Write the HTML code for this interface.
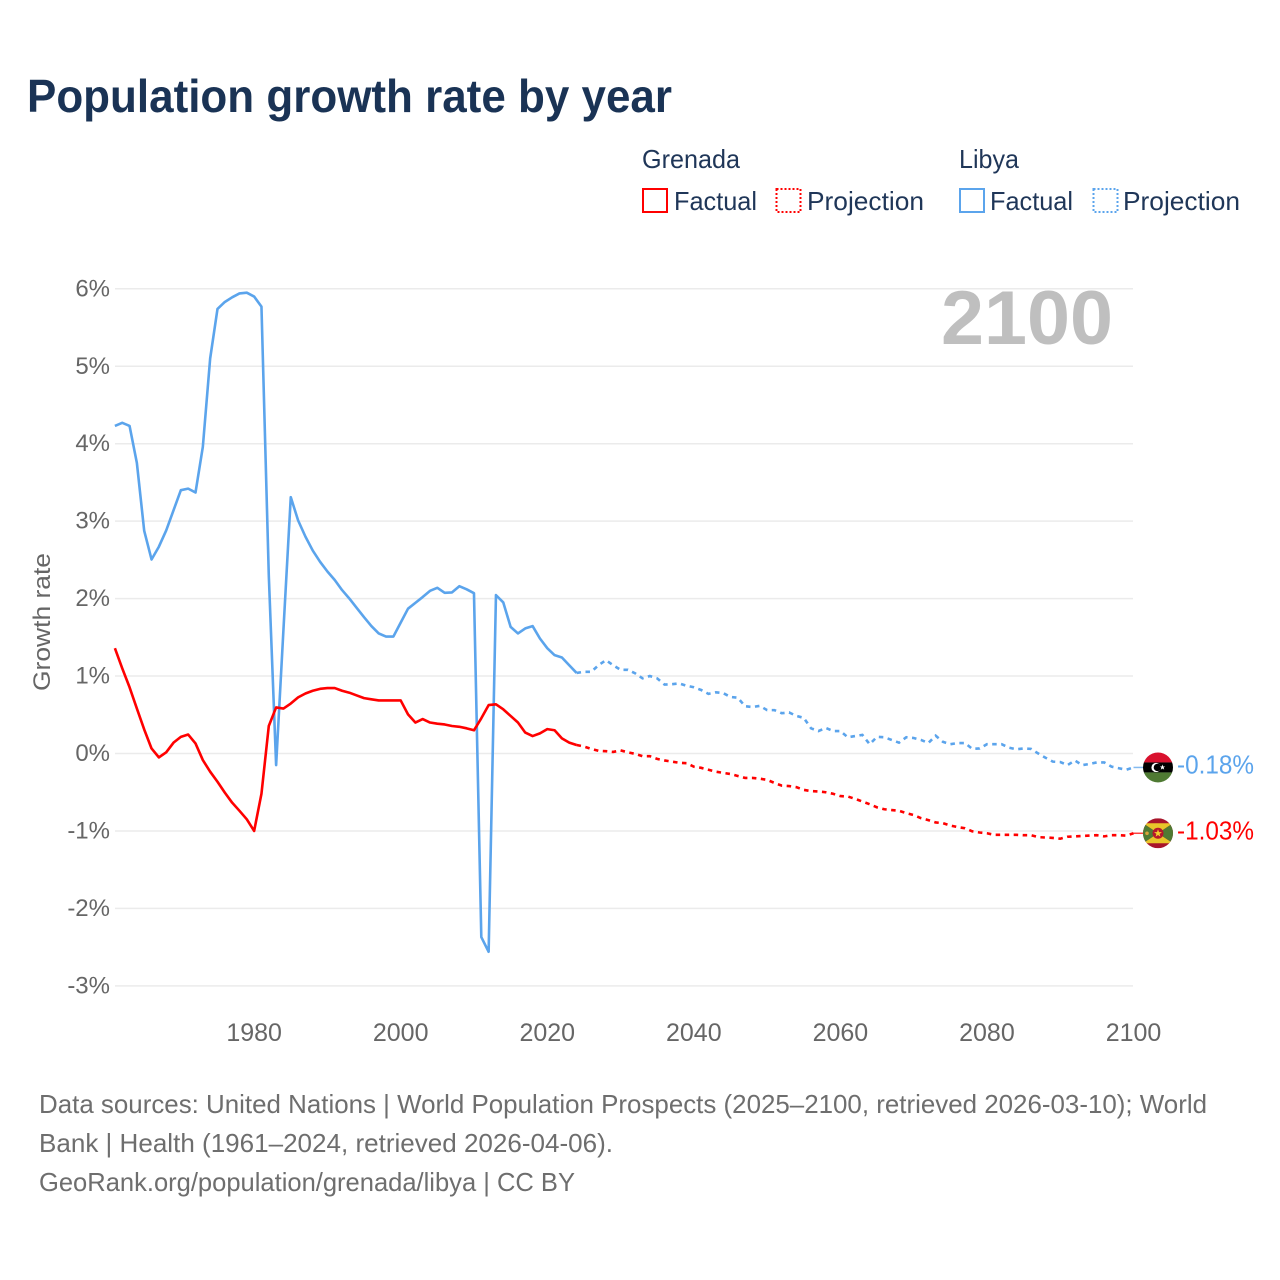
<!DOCTYPE html>
<html lang="en">
<head>
<meta charset="utf-8">
<title>Population growth rate by year</title>
<style>
html,body{margin:0;padding:0;background:#fff;}
svg{display:block;}
text{font-family:"Liberation Sans",sans-serif;}
</style>
</head>
<body>
<svg id="chart" xmlns="http://www.w3.org/2000/svg" width="1280" height="1280" viewBox="0 0 1280 1280">
  <defs>
    <clipPath id="flag-clip"><circle cx="0" cy="0" r="15"></circle></clipPath>
  </defs>
  <rect x="0" y="0" width="1280" height="1280" fill="#ffffff"></rect>

  <text x="27" y="112" font-size="46" font-weight="700" fill="#1a3355" textLength="645" lengthAdjust="spacingAndGlyphs">Population growth rate by year</text>

  <g font-size="26" fill="#1f3658">
    <text x="642" y="168" textLength="98" lengthAdjust="spacingAndGlyphs">Grenada</text>
    <text x="959" y="168" textLength="60" lengthAdjust="spacingAndGlyphs">Libya</text>
    <rect x="643" y="189" width="24" height="23" fill="none" stroke="#ff0000" stroke-width="2"></rect>
    <text x="674" y="210" textLength="83" lengthAdjust="spacingAndGlyphs">Factual</text>
    <rect x="776.5" y="189" width="24" height="23" fill="none" stroke="#ff0000" stroke-width="2" stroke-dasharray="2 2"></rect>
    <text x="807" y="210" textLength="117" lengthAdjust="spacingAndGlyphs">Projection</text>
    <rect x="960" y="189" width="24" height="23" fill="none" stroke="#5ba4ec" stroke-width="2"></rect>
    <text x="990" y="210" textLength="83" lengthAdjust="spacingAndGlyphs">Factual</text>
    <rect x="1093.5" y="189" width="24" height="23" fill="none" stroke="#5ba4ec" stroke-width="2" stroke-dasharray="2 2"></rect>
    <text x="1123" y="210" textLength="117" lengthAdjust="spacingAndGlyphs">Projection</text>
  </g>

  <g id="grid"></g>
  <g id="y-ticks"></g>
  <g id="x-ticks"></g>

  <text x="1113" y="344" text-anchor="end" font-size="76" font-weight="700" fill="#bfbfbf" textLength="172" lengthAdjust="spacingAndGlyphs">2100</text>

  <text transform="translate(50,622) rotate(-90)" text-anchor="middle" font-size="24" fill="#666666" textLength="138" lengthAdjust="spacingAndGlyphs">Growth rate</text>

  <g id="series"></g>
  <g id="end-markers"></g>

  <g font-size="26" fill="#6e6e6e">
    <text x="39" y="1113" textLength="1168" lengthAdjust="spacingAndGlyphs">Data sources: United Nations | World Population Prospects (2025–2100, retrieved 2026-03-10); World</text>
    <text x="39" y="1152" textLength="574" lengthAdjust="spacingAndGlyphs">Bank | Health (1961–2024, retrieved 2026-04-06).</text>
    <text x="39" y="1191" textLength="536" lengthAdjust="spacingAndGlyphs">GeoRank.org/population/grenada/libya | CC BY</text>
  </g>
</svg>

<script>
const yTickValues = [6, 5, 4, 3, 2, 1, 0, -1, -2, -3];
const xTickYears = [1980, 2000, 2020, 2040, 2060, 2080, 2100];
const factualStartYear = 1961;
const projectionStartYear = 2024;

const libyaFactual = [
  4.23, 4.27, 4.23, 3.75, 2.875, 2.505, 2.67, 2.88, 3.14, 3.40,
  3.42, 3.37, 3.96, 5.10, 5.74, 5.83, 5.89, 5.94, 5.95, 5.90,
  5.77, 2.30, -0.15, 1.60, 3.31, 3.01, 2.80, 2.62, 2.475, 2.35,
  2.24, 2.11, 2.00, 1.88, 1.76, 1.645, 1.55, 1.51, 1.51, 1.69,
  1.87, 1.945, 2.02, 2.10, 2.14, 2.075, 2.08, 2.16, 2.12, 2.07,
  -2.37, -2.56, 2.045, 1.95, 1.635, 1.55, 1.615, 1.645, 1.485, 1.36,
  1.27, 1.24, 1.14, 1.04
];

const libyaProjection = [
  1.04,
  1.055, 1.055, 1.14, 1.205, 1.14, 1.08, 1.08, 1.035, 0.97, 1.00,
  0.97, 0.89, 0.895, 0.905, 0.875, 0.855, 0.82, 0.77, 0.79, 0.78,
  0.73, 0.72, 0.61, 0.60, 0.615, 0.56, 0.56, 0.52, 0.53, 0.485,
  0.46, 0.325, 0.29, 0.33, 0.29, 0.29, 0.21, 0.225, 0.24, 0.12,
  0.215, 0.21, 0.175, 0.14, 0.21, 0.20, 0.175, 0.135, 0.23, 0.15,
  0.12, 0.135, 0.135, 0.06, 0.065, 0.12, 0.12, 0.12, 0.075, 0.055,
  0.065, 0.06, 0.00, -0.055, -0.105, -0.11, -0.15, -0.09, -0.15, -0.135,
  -0.115, -0.115, -0.17, -0.19, -0.21, -0.18
];

const grenadaFactual = [
  1.36, 1.10, 0.855, 0.58, 0.31, 0.065, -0.05, 0.015, 0.14, 0.215,
  0.245, 0.13, -0.085, -0.235, -0.365, -0.505, -0.635, -0.74, -0.85, -1.00,
  -0.52, 0.355, 0.595, 0.58, 0.645, 0.725, 0.775, 0.81, 0.835, 0.845,
  0.845, 0.81, 0.785, 0.75, 0.715, 0.70, 0.685, 0.685, 0.685, 0.685,
  0.505, 0.40, 0.445, 0.40, 0.385, 0.375, 0.355, 0.345, 0.325, 0.30,
  0.455, 0.625, 0.635, 0.57, 0.485, 0.40, 0.27, 0.225, 0.26, 0.315,
  0.30, 0.195, 0.14, 0.11
];

const grenadaProjection = [
  0.11,
  0.09, 0.06, 0.035, 0.03, 0.02, 0.04, 0.015, -0.005, -0.035, -0.035,
  -0.07, -0.09, -0.105, -0.12, -0.125, -0.17, -0.185, -0.21, -0.235, -0.25,
  -0.265, -0.29, -0.315, -0.315, -0.325, -0.34, -0.38, -0.415, -0.42, -0.435,
  -0.47, -0.485, -0.49, -0.50, -0.52, -0.55, -0.555, -0.585, -0.62, -0.655,
  -0.695, -0.72, -0.73, -0.74, -0.77, -0.795, -0.835, -0.86, -0.89, -0.90,
  -0.93, -0.95, -0.965, -1.005, -1.02, -1.03, -1.05, -1.05, -1.05, -1.05,
  -1.055, -1.055, -1.08, -1.085, -1.09, -1.10, -1.075, -1.07, -1.065, -1.06,
  -1.055, -1.07, -1.055, -1.055, -1.06, -1.03
];

const SVG_NS = 'http://www.w3.org/2000/svg';
function xScale(year) { return 114.9 + (year - 1961) * (1133.5 - 114.9) / 139; }
function yScale(value) { return 753.5 - value * 77.45; }
function make(tag, attrs, parent) {
  const el = document.createElementNS(SVG_NS, tag);
  for (const key in attrs) el.setAttribute(key, attrs[key]);
  parent.appendChild(el);
  return el;
}
function linePath(values, startYear) {
  return values.map(function (v, i) {
    return (i ? 'L' : 'M') + xScale(startYear + i).toFixed(2) + ' ' + yScale(v).toFixed(2);
  }).join(' ');
}

const gridGroup = document.getElementById('grid');
const yTickGroup = document.getElementById('y-ticks');
yTickValues.forEach(function (v) {
  const line = make('line', { x1: 115, x2: 1133, y1: yScale(v), y2: yScale(v), stroke: '#ebebeb', 'stroke-width': 1.5 }, gridGroup);
  
  
  const label = make('text', { x: 110, y: yScale(v) + 7.5, 'text-anchor': 'end', 'font-size': 24, fill: '#666666' }, yTickGroup);
  
  
  label.textContent = v + '%';
});

const xTickGroup = document.getElementById('x-ticks');
xTickYears.forEach(function (year) {
  const label = make('text', { x: xScale(year), y: 1041, 'text-anchor': 'middle', 'font-size': 25, fill: '#666666' }, xTickGroup);
  
  
  label.textContent = year;
});

const BLUE = '#5ba4ec';
const RED = '#ff0000';
const seriesGroup = document.getElementById('series');

const libyaFactualLine = make('path', { d: linePath(libyaFactual, factualStartYear), fill: 'none', stroke: BLUE, 'stroke-width': 2.6, 'stroke-linejoin': 'round' }, seriesGroup);



const libyaProjectionLine = make('path', { d: linePath(libyaProjection, projectionStartYear), fill: 'none', stroke: BLUE, 'stroke-width': 2.6, 'stroke-dasharray': '4.5 4.5' }, seriesGroup);



const grenadaFactualLine = make('path', { d: linePath(grenadaFactual, factualStartYear), fill: 'none', stroke: RED, 'stroke-width': 2.6, 'stroke-linejoin': 'round' }, seriesGroup);



const grenadaProjectionLine = make('path', { d: linePath(grenadaProjection, projectionStartYear), fill: 'none', stroke: RED, 'stroke-width': 2.6, 'stroke-dasharray': '4.5 4.5' }, seriesGroup);



const markerGroup = document.getElementById('end-markers');
function drawConnector(value, color) {
  const c = make('line', { x1: xScale(2100), x2: 1146, y1: yScale(value), y2: yScale(value), stroke: color, 'stroke-width': 1.5, opacity: 0.75 }, markerGroup);
  
  
}
function drawEndLabel(value, color) {
  const t = make('text', { x: 1177, y: yScale(value) + 6, 'font-size': 25.5, fill: color, textLength: 77, lengthAdjust: 'spacingAndGlyphs' }, markerGroup);
  
  
  t.textContent = value.toFixed(2) + '%';
}

const libyaLast = libyaProjection[libyaProjection.length - 1];
const grenadaLast = grenadaProjection[grenadaProjection.length - 1];
drawConnector(libyaLast, BLUE);
drawConnector(grenadaLast, RED);

const libyaFlag = make('g', { transform: 'translate(1158,' + yScale(libyaLast) + ')', 'clip-path': 'url(#flag-clip)' }, markerGroup);


make('rect', { x: -15, y: -15, width: 30, height: 10, fill: '#d9112e' }, libyaFlag);
make('rect', { x: -15, y: -5, width: 30, height: 10, fill: '#000000' }, libyaFlag);
make('rect', { x: -15, y: 5, width: 30, height: 10, fill: '#4f7a33' }, libyaFlag);
make('circle', { cx: -2, cy: 0, r: 4.6, fill: '#ffffff' }, libyaFlag);
make('circle', { cx: -0.6, cy: 0, r: 3.7, fill: '#000000' }, libyaFlag);
make('polygon', { points: '4.5,-3 5.2,-1 7.2,-1 5.6,0.2 6.2,2.2 4.5,1 2.8,2.2 3.4,0.2 1.8,-1 3.8,-1', fill: '#ffffff' }, libyaFlag);

const grenadaFlag = make('g', { transform: 'translate(1158,' + yScale(grenadaLast) + ')', 'clip-path': 'url(#flag-clip)' }, markerGroup);


make('rect', { x: -15, y: -15, width: 30, height: 30, fill: '#a8152b' }, grenadaFlag);
make('polygon', { points: '-15,-10 15,-10 0,0', fill: '#e8c52a' }, grenadaFlag);
make('polygon', { points: '-15,10 15,10 0,0', fill: '#e8c52a' }, grenadaFlag);
make('polygon', { points: '-15,-10 -15,10 0,0', fill: '#4f7a33' }, grenadaFlag);
make('polygon', { points: '15,-10 15,10 0,0', fill: '#4f7a33' }, grenadaFlag);
make('circle', { cx: 0, cy: 0, r: 5.5, fill: '#b5162b' }, grenadaFlag);
make('polygon', { points: '0,-4 1,-1.2 4,-1.2 1.6,0.6 2.4,3.4 0,1.7 -2.4,3.4 -1.6,0.6 -4,-1.2 -1,-1.2', fill: '#f2d02c' }, grenadaFlag);
make('circle', { cx: -11, cy: 0, r: 1.8, fill: '#d9a43a' }, grenadaFlag);

drawEndLabel(libyaLast, BLUE);
drawEndLabel(grenadaLast, RED);
</script>
</body>
</html>
